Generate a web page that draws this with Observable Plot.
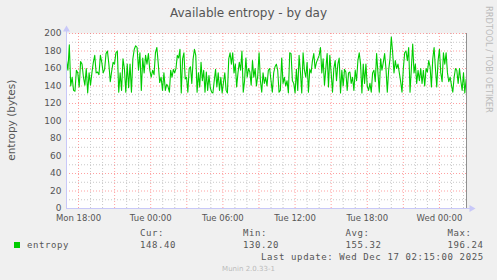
<!DOCTYPE html>
<html>
<head>
<meta charset="utf-8">
<script src="https://cdn.jsdelivr.net/npm/d3@7"></script>
<script src="https://cdn.jsdelivr.net/npm/@observablehq/plot@0.6"></script>
<style>
  html, body { margin: 0; padding: 0; background: #f0f0f0; }
  #wrap { position: relative; width: 497px; height: 280px; background: #f0f0f0; overflow: hidden; }
  #wrap svg { position: absolute; left: 0; top: 0; }
  .t { position: absolute; white-space: nowrap; }
  .mono { font-family: "DejaVu Sans Mono", monospace; font-size: 9px; line-height: 9px; letter-spacing: 0.6px; color: #555; }
</style>
</head>
<body>
<div id="wrap"></div>
<script>
// ---- data (entropy in bytes, 5-minute samples, Mon 17:00 -> Wed 02:15) ----
const seg1 = [169,158,187,140,150,135,134,158,155,139,168,165,150,141,160,132,155,141,155,167,175,155,156,153,175,167,155,159,177,180,165,145,157,167,165,178,180,133,155,135,171,160,133,165,138,165,133,171,182,186,184,158,178,135,172,155,175,165,177,158,150,158,153,178,184,165,144,150,135,155,135];
const seg2 = [142,139,133,158,150,159,155,160,175,172,182,132,171,178,148,150,133,160,162,143,171,182,175,133,155,139,167,146,158,133,156,135,152,138,133,132,146,159,139,155,135,150,132,144,155,135,132,171,178,165,178,155,165,139,155,167,158,180,133,146,172,150,160,156,141,169,150,160,140,152,178,146,133,155,143,150];
const seg3 = [140,158,160,146,133,155,162,165,158,133,135,172,143,150,140,146,132,178,177,146,143,132,159,135,175,156,132,178,158,150,167,133,159,155,169,177,160,167,171,175,184,155,171,141,160,177,139,175,155,133,160,169,146,165,172,132,158,140,159,156,135,155,156,143,150,135,158,146,169,178,165,132,165,143,165];
const seg4 = [140,135,143,133,155,158,145,177,155,133,171,158,167,177,160,133,158,171,196,178,155,169,160,165,155,145,133,160,178,180,169,184,133,160,188,155,165,143,158,146,160,143,158,140,160,156,169,162,139,171,184,160,139,169,182,155,145,178,165,178,155,145,150,141,133,150,160,158,143,160,146,135,155,132,148];
const segments = [seg1, seg2, seg3, seg4];
const startHour = 17;        // Mon 17:00 (hours since Mon 00:00)
const endHour = 50.25;       // Wed 02:15
const yTicks = [0,20,40,60,80,100,120,140,160,180,200];
const yMinor = [10,30,50,70,90,110,130,150,170,190];
const xTickHours = [18,24,30,36,42,48];
const xTickLabels = ["Mon 18:00","Tue 00:00","Tue 06:00","Tue 12:00","Tue 18:00","Wed 00:00"];
const xMajorHours = [18,21,24,27,30,33,36,39,42,45,48];
const xMinorHours = [19,20,22,23,25,26,28,29,31,32,34,35,37,38,40,41,43,44,46,47,49,50];
const legendName = "entropy";
const legendStats = [["Cur:","148.40"],["Min:","130.20"],["Avg:","155.32"],["Max:","196.24"]];
const title = "Available entropy - by day";
const yLabel = "entropy (bytes)";
const lastUpdate = "Last update: Wed Dec 17 02:15:00 2025";
const footer = "Munin 2.0.33-1";
const sideText = "RRDTOOL / TOBI OETIKER";

// samples: each segment covers one quarter of the 400-px (33.33 h) window
const segSpan = 100 / 12;
const data = [];
segments.forEach((seg, k) => {
  seg.forEach((v, j) => data.push({t: startHour + k * segSpan + j * segSpan / seg.length, v}));
});

const axisCol = "#c8c8f8";
const plot = Plot.plot({
  width: 497,
  height: 280,
  marginLeft: 66,
  marginRight: 31,
  marginTop: 33,
  marginBottom: 72,
  x: {domain: [startHour, endHour]},
  y: {domain: [0, 200]},
  style: {background: "transparent", fontFamily: "DejaVu Sans", fontSize: "8.5px", color: "#555", overflow: "visible"},
  marks: [
    Plot.frame({fill: "white", stroke: null}),
    Plot.ruleY(yMinor, {stroke: "#c8c8c8", strokeDasharray: "1,2"}),
    Plot.ruleX(xMinorHours, {stroke: "#c8c8c8", strokeDasharray: "1,2"}),
    Plot.ruleY(yTicks, {stroke: "#ff6060", strokeOpacity: 0.6, strokeDasharray: "1,2"}),
    Plot.ruleX(xMajorHours, {stroke: "#ff6060", strokeOpacity: 0.6, strokeDasharray: "1,2"}),
    Plot.line(data, {x: "t", y: "v", stroke: "#00cc00", strokeWidth: 1.1}),
    Plot.ruleX([endHour], {stroke: "#909090", strokeWidth: 1}),
    Plot.ruleX([startHour], {y1: 0, y2: 204, stroke: axisCol}),
    Plot.ruleY([0], {x1: startHour, x2: endHour + 0.5, stroke: axisCol}),
    Plot.dot([{x: startHour, y: 200}], {x: "x", y: "y", symbol: "triangle", r: 2.6, fill: axisCol, stroke: null, dy: -4}),
    Plot.dot([{x: endHour, y: 0}], {x: "x", y: "y", symbol: "triangle", r: 2.6, fill: axisCol, stroke: null, dx: 5, rotate: 90}),
    Plot.axisY({ticks: yTicks, tickSize: 0, tickPadding: 5, label: null, fontSize: 9, fill: "#555"}),
    Plot.axisX({ticks: xTickHours, tickFormat: (d, i) => xTickLabels[xTickHours.indexOf(d)], tickSize: 0, tickPadding: 6, label: null, fontSize: 8.5, fill: "#555"})
  ]
});
const wrap = document.getElementById("wrap");
wrap.appendChild(plot);

function addText(txt, cls, css) {
  const d = document.createElement("div");
  d.className = "t " + cls;
  d.textContent = txt;
  Object.assign(d.style, css);
  wrap.appendChild(d);
  return d;
}
addText(title, "", {left: "0px", width: "497px", top: "7px", textAlign: "center", fontFamily: "DejaVu Sans", fontSize: "12px", lineHeight: "12px", color: "#555"});
addText(yLabel, "", {left: "-49px", width: "120px", top: "115px", textAlign: "center", fontFamily: "DejaVu Sans", fontSize: "10.5px", lineHeight: "10.5px", color: "#555", transform: "rotate(-90deg)"});
addText(sideText, "", {left: "439px", width: "100px", top: "52px", textAlign: "center", fontFamily: "DejaVu Sans", fontSize: "8.3px", lineHeight: "8px", color: "#bbb", transform: "rotate(90deg)"});

const sq = document.createElement("div");
Object.assign(sq.style, {position: "absolute", left: "14px", top: "242px", width: "6px", height: "6px", background: "#00cc00"});
wrap.appendChild(sq);
addText(legendName, "mono", {left: "27px", top: "241px"});
const statX = [140, 243, 345.5, 447.5];
legendStats.forEach(([lab, val], i) => {
  addText(lab, "mono", {left: statX[i] + "px", top: "228.5px"});
  addText(val, "mono", {left: statX[i] + "px", top: "241px"});
});
addText(lastUpdate, "mono", {left: "261px", top: "253px"});
addText(footer, "", {left: "0px", width: "497px", top: "266px", textAlign: "center", fontFamily: "DejaVu Sans", fontSize: "7px", lineHeight: "7px", color: "#bbb"});
</script>
</body>
</html>
